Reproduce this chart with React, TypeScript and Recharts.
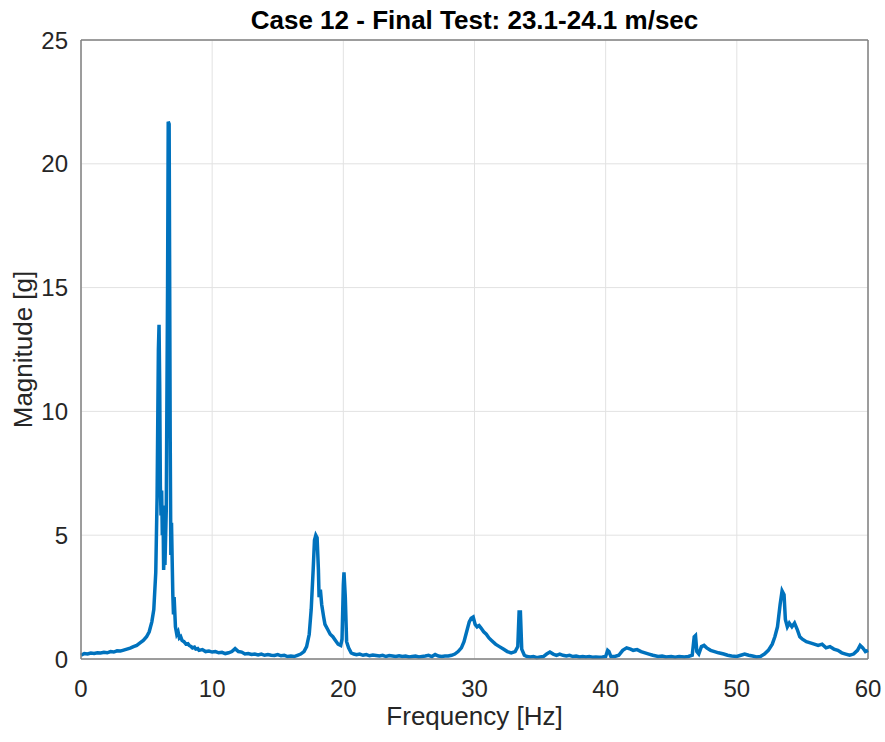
import { CartesianGrid, Label, Line, LineChart, ReferenceLine, XAxis, YAxis } from "recharts";

// [frequency Hz, magnitude g], band by band
const lowBand: [number, number][] = [
  [0, 0.15], [0.25, 0.22], [0.5, 0.2], [0.75, 0.24], [1, 0.22], [1.25, 0.25], [1.5, 0.24],
  [1.75, 0.27], [2, 0.25], [2.25, 0.3], [2.5, 0.28], [2.75, 0.33], [3, 0.32], [3.25, 0.36],
  [3.5, 0.4], [3.75, 0.44], [4, 0.5], [4.25, 0.55], [4.5, 0.65], [4.75, 0.75], [5, 0.9],
  [5.2, 1.1], [5.4, 1.5], [5.55, 2.0], [5.7, 3.5], [5.8, 6.5], [5.9, 12.5], [5.95, 13.5],
  [6.0, 11], [6.05, 7], [6.1, 5.8], [6.15, 6.8], [6.2, 5.0], [6.25, 6.2], [6.3, 3.6],
  [6.35, 4.5], [6.4, 3.8], [6.5, 6], [6.6, 15], [6.65, 21.7], [6.72, 21.6], [6.8, 9],
  [6.85, 4.2], [6.9, 5.5], [6.95, 4.0], [7.0, 2.6], [7.05, 1.8], [7.1, 2.5], [7.2, 1.3],
  [7.3, 1.0], [7.4, 1.1], [7.5, 0.85], [7.6, 0.9], [7.7, 0.75], [7.85, 0.7], [8, 0.6],
  [8.15, 0.62], [8.25, 0.55], [8.4, 0.5], [8.5, 0.45], [8.65, 0.48], [8.75, 0.4], [8.9, 0.42],
  [9, 0.35], [9.25, 0.38], [9.5, 0.3], [9.75, 0.32], [10, 0.28], [10.25, 0.3], [10.5, 0.25],
  [10.75, 0.27], [11, 0.22], [11.25, 0.25], [11.5, 0.3], [11.75, 0.42], [12, 0.3],
  [12.25, 0.28], [12.5, 0.2], [12.75, 0.22], [13, 0.18], [13.25, 0.2], [13.5, 0.16],
  [13.75, 0.2], [14, 0.15], [14.25, 0.18], [14.5, 0.15], [14.75, 0.14], [15, 0.18],
  [15.25, 0.13], [15.5, 0.15], [15.75, 0.1], [16, 0.12], [16.25, 0.1], [16.5, 0.15],
  [16.75, 0.2],
];

const midBand: [number, number][] = [
  [17, 0.3], [17.2, 0.5], [17.4, 1.0], [17.55, 2.0], [17.7, 3.6], [17.8, 4.8], [17.9, 5.0],
  [18.0, 4.9], [18.1, 3.6], [18.15, 2.5], [18.25, 2.8], [18.35, 2.2], [18.5, 1.7], [18.6, 1.4],
  [18.8, 1.2], [19, 1.0], [19.2, 0.9], [19.4, 0.75], [19.6, 0.6], [19.8, 0.55], [19.9, 0.8],
  [20.0, 3.0], [20.05, 3.5], [20.15, 2.5], [20.25, 0.7], [20.4, 0.45], [20.6, 0.25],
  [20.8, 0.2], [21, 0.17], [21.25, 0.2], [21.5, 0.15], [21.75, 0.18], [22, 0.13],
  [22.25, 0.16], [22.5, 0.14], [22.75, 0.12], [23, 0.15], [23.25, 0.1], [23.5, 0.14],
  [23.75, 0.12], [24, 0.1], [24.25, 0.13], [24.5, 0.1], [24.75, 0.12], [25, 0.08],
  [25.25, 0.1], [25.5, 0.12], [25.75, 0.08], [26, 0.1], [26.25, 0.12], [26.5, 0.15],
  [26.75, 0.1], [27, 0.18], [27.25, 0.12], [27.5, 0.1], [27.75, 0.12], [28, 0.12],
  [28.25, 0.15], [28.5, 0.2], [28.75, 0.3], [29, 0.45], [29.2, 0.7], [29.4, 1.1], [29.6, 1.5],
  [29.75, 1.65], [29.9, 1.7], [30.05, 1.4], [30.2, 1.3], [30.35, 1.35], [30.5, 1.25],
  [30.7, 1.1], [30.9, 1.0], [31.1, 0.85], [31.3, 0.75], [31.6, 0.6], [31.9, 0.5], [32.2, 0.4],
  [32.5, 0.3], [32.8, 0.25], [33.1, 0.3], [33.3, 0.5], [33.4, 1.9], [33.5, 1.9], [33.6, 0.4],
  [33.8, 0.15], [34, 0.1], [34.25, 0.08], [34.5, 0.1], [34.75, 0.05], [35, 0.08],
  [35.25, 0.1], [35.5, 0.2], [35.75, 0.28], [36, 0.2], [36.25, 0.15], [36.5, 0.2],
  [36.75, 0.15], [37, 0.12], [37.25, 0.15], [37.5, 0.1], [37.75, 0.12], [38, 0.08],
  [38.25, 0.1], [38.5, 0.08], [38.75, 0.1], [39, 0.07], [39.25, 0.08], [39.5, 0.07],
  [39.75, 0.08],
];

const highBand: [number, number][] = [
  [40, 0.1], [40.15, 0.35], [40.25, 0.3], [40.4, 0.1], [40.7, 0.1], [41, 0.15], [41.3, 0.35],
  [41.6, 0.45], [41.9, 0.4], [42.1, 0.35], [42.4, 0.38], [42.7, 0.3], [43, 0.25], [43.3, 0.2],
  [43.6, 0.15], [44, 0.1], [44.3, 0.12], [44.6, 0.08], [45, 0.1], [45.3, 0.07], [45.6, 0.1],
  [46, 0.08], [46.3, 0.1], [46.6, 0.15], [46.75, 0.9], [46.85, 0.95], [46.95, 0.3],
  [47.1, 0.2], [47.3, 0.5], [47.5, 0.55], [47.7, 0.45], [48, 0.35], [48.3, 0.3], [48.6, 0.25],
  [49, 0.2], [49.3, 0.15], [49.6, 0.12], [50, 0.1], [50.3, 0.15], [50.6, 0.2], [50.9, 0.15],
  [51.2, 0.12], [51.5, 0.08], [51.8, 0.1], [52.1, 0.2], [52.4, 0.35], [52.7, 0.6],
  [52.9, 0.9], [53.1, 1.3], [53.3, 2.2], [53.45, 2.75], [53.6, 2.6], [53.7, 1.6],
  [53.85, 1.3], [54.0, 1.45], [54.2, 1.3], [54.4, 1.45], [54.6, 1.2], [54.8, 0.9], [55, 0.8],
  [55.3, 0.7], [55.6, 0.65], [55.9, 0.6], [56.2, 0.55], [56.5, 0.6], [56.8, 0.45],
  [57.1, 0.5], [57.4, 0.4], [57.7, 0.35], [58, 0.25], [58.3, 0.2], [58.6, 0.15], [58.9, 0.2],
  [59.2, 0.35], [59.4, 0.55], [59.6, 0.45], [59.8, 0.3], [60, 0.35],
];

const xTicks = [0, 10, 20, 30, 40, 50, 60];
const yTicks = [0, 5, 10, 15, 20, 25];

const data = [...lowBand, ...midBand, ...highBand].map(([f, m]) => ({ f, m }));

const font = "'Liberation Sans', Arial, sans-serif";
const tickStyle = { fill: "#262626", fontSize: 24, fontFamily: font };
const labelStyle = { fill: "#262626", fontSize: 26, fontFamily: font };

export default function App() {
  return (
    <div style={{ position: "absolute", left: 0, top: 0, width: 885, height: 742, background: "#fff" }}>
      <div
        style={{
          position: "absolute",
          left: 81,
          width: 787,
          top: 7,
          textAlign: "center",
          fontFamily: font,
          fontWeight: "bold",
          fontSize: 26,
          lineHeight: "26px",
          color: "#000",
        }}
      >
        Case 12 - Final Test: 23.1-24.1 m/sec
      </div>
      <LineChart width={885} height={742} data={data} margin={{ top: 40, right: 17, left: 0, bottom: 0 }}>
        <CartesianGrid stroke="#e2e2e2" strokeWidth={1} />
        <XAxis
          dataKey="f"
          type="number"
          domain={[0, 60]}
          ticks={xTicks}
          height={83}
          tick={tickStyle}
          tickLine={false}
          tickMargin={15}
          axisLine={{ stroke: "#808080", strokeWidth: 1.5 }}
        >
          <Label value="Frequency [Hz]" position="insideBottom" offset={17} style={labelStyle} />
        </XAxis>
        <YAxis
          type="number"
          domain={[0, 25]}
          ticks={yTicks}
          width={81}
          tick={tickStyle}
          tickLine={false}
          tickMargin={7}
          axisLine={{ stroke: "#808080", strokeWidth: 1.5 }}
        >
          <Label
            value="Magnitude [g]"
            angle={-90}
            position="insideLeft"
            offset={23}
            style={{ ...labelStyle, textAnchor: "middle" }}
          />
        </YAxis>
        <ReferenceLine y={25} stroke="#808080" strokeWidth={1.5} />
        <ReferenceLine x={60} stroke="#808080" strokeWidth={1.5} />
        <Line
          dataKey="m"
          type="linear"
          stroke="#0072BD"
          strokeWidth={3.5}
          dot={false}
          isAnimationActive={false}
        />
      </LineChart>
    </div>
  );
}
